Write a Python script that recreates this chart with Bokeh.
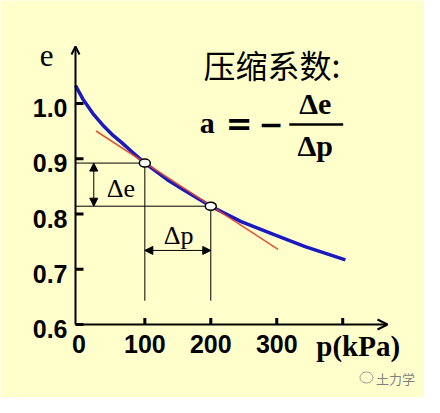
from bokeh.plotting import figure
from bokeh.models import (Range1d, Arrow, OpenHead, NormalHead, Label)
from bokeh.embed import file_html
from bokeh.resources import INLINE

# ---- data ----
pressure = [-5, 7, 21, 36, 50, 65, 80, 100, 134, 158, 183, 200, 246, 295, 343, 404]
void_ratio = [1.032, 1.006, 0.982, 0.961, 0.944, 0.929, 0.913, 0.892, 0.862,
              0.844, 0.826, 0.814, 0.786, 0.763, 0.741, 0.717]
point_p = [100, 200]
point_e = [0.892, 0.814]
secant_p = [26, 302]
secant_e = [0.950, 0.736]
y_ticks = [0.6, 0.7, 0.8, 0.9, 1.0]
y_tick_labels = ["0.6", "0.7", "0.8", "0.9", "1.0"]
x_label_ticks = [0, 100, 200, 300]
x_tick_labels = ["0", "100", "200", "300"]
x_mark_ticks = [100, 200, 300, 400]

# ---- layout constants ----
BG = "#FFFFCC"
W, H = 424, 397
AXIS_P, AXIS_P_END = -5.11, 467.9     # y axis position / x-axis arrow tip (kPa)
AXIS_E, AXIS_E_END = 0.6, 1.1029      # x axis position / y-axis arrow tip (e)
PX_X = 312 / (AXIS_P_END - AXIS_P)    # px per kPa
PX_Y = 278 / (AXIS_E_END - AXIS_E)    # px per unit e
X0, X1 = AXIS_P - 75 / PX_X, AXIS_P_END + 37 / PX_X
Y0, Y1 = AXIS_E - 73 / PX_Y, AXIS_E_END + 46 / PX_Y
DIM_BOTTOM = 0.643
DE_ARROW_P = 22.6
DP_ARROW_E = 0.734

p = figure(width=W, height=H, x_range=Range1d(X0, X1), y_range=Range1d(Y0, Y1),
           output_backend="svg", toolbar_location=None, title=None,
           x_axis_location=None, y_axis_location=None, min_border=0,
           background_fill_color=BG, border_fill_color=BG, outline_line_color=None)
p.grid.visible = False

# ---- axes (with arrow heads), ticks ----
p.add_layout(Arrow(end=OpenHead(size=8, line_width=2, line_color="black"),
                   x_start=AXIS_P, y_start=AXIS_E, x_end=AXIS_P, y_end=AXIS_E_END,
                   line_width=2, line_color="black"))
p.add_layout(Arrow(end=OpenHead(size=10, line_width=2, line_color="black"),
                   x_start=AXIS_P, y_start=AXIS_E, x_end=AXIS_P_END, y_end=AXIS_E,
                   line_width=2, line_color="black"))
p.segment(x0=[AXIS_P] * len(y_ticks), y0=y_ticks, x1=[AXIS_P + 8 / PX_X] * len(y_ticks),
          y1=y_ticks, line_width=3, line_color="black")
p.segment(x0=x_mark_ticks, y0=[AXIS_E] * len(x_mark_ticks), x1=x_mark_ticks,
          y1=[AXIS_E + 6.5 / PX_Y] * len(x_mark_ticks), line_width=3, line_color="black")

# ---- dimension lines ----
p.segment(x0=[AXIS_P, AXIS_P], y0=point_e, x1=point_p, y1=point_e, line_width=1, line_color="black")
p.segment(x0=point_p, y0=point_e, x1=point_p, y1=[DIM_BOTTOM] * 2, line_width=1, line_color="black")
p.add_layout(Arrow(start=NormalHead(size=8, fill_color="black", line_color="black"),
                   end=NormalHead(size=8, fill_color="black", line_color="black"),
                   x_start=DE_ARROW_P, y_start=point_e[0], x_end=DE_ARROW_P, y_end=point_e[1],
                   line_width=1, line_color="black"))
p.add_layout(Arrow(start=NormalHead(size=8, fill_color="black", line_color="black"),
                   end=NormalHead(size=8, fill_color="black", line_color="black"),
                   x_start=point_p[0], y_start=DP_ARROW_E, x_end=point_p[1], y_end=DP_ARROW_E,
                   line_width=1, line_color="black"))

# ---- curve and secant ----
p.line(pressure, void_ratio, line_width=3.5, line_color="#1A1AC0")
p.line(secant_p, secant_e, line_width=1.6, line_color="#E0442A", line_alpha=0.9)

# ---- points ----
p.ellipse(x=point_p, y=point_e, width=11, height=8, width_units="screen", height_units="screen",
          fill_color="white", line_color="black", line_width=1.5)

serif = "Liberation Serif"
sans = "Liberation Sans"
CJK = "Noto Sans CJK SC"
DJV = "DejaVu Sans"
# Label anchors its text box centre at y; K converts a baseline position to that centre
K = {serif: 0.34, sans: 0.3465, CJK: 0.436, DJV: 0.346}

def lab(x, y, text, size, font=serif, style="normal", align="left", color="black", at_baseline=True):
    if at_baseline:
        y = y + K[font] * size / PX_Y
    p.add_layout(Label(x=x, y=y, text=text, text_font=font, text_font_size=f"{size}px",
                       text_font_style=style, text_align=align, text_baseline="alphabetic",
                       text_color=color))

# tick labels
for t, s in zip(y_ticks, y_tick_labels):
    lab(AXIS_P - 8 / PX_X, t - 4.8 / PX_Y, s, 25, font=sans, style="bold", align="right",
        at_baseline=False)
for t, s in zip(x_label_ticks, x_tick_labels):
    lab(t, AXIS_E - 19.2 / PX_Y, s, 25, font=sans, style="bold", align="center", at_baseline=False)

# axis titles
lab(-48.9, 1.067, "e", 31, align="center")
lab(359.9, 0.5426, "p(kPa)", 29, style="bold")

# formula
lab(189.1, 1.0452, "压缩系数:", 32, font=CJK)
lab(183.2, 0.9478, "a", 30, style="bold")
lab(243.1, 0.9636, "=", 32, font=DJV, style="bold", align="center", at_baseline=False)
lab(291.2, 0.9636, "\u2212", 30, font=DJV, style="bold", align="center", at_baseline=False)
lab(358.4, 0.9809, "\u0394e", 30, style="bold", align="center")
lab(358.4, 0.9052, "\u0394p", 30, style="bold", align="center")
p.segment(x0=[319], y0=[0.9617], x1=[400.7], y1=[0.9617], line_width=2.5, line_color="black")

# dimension texts
lab(63.6, 0.8296, "\u0394e", 26, align="center")
lab(151.1, 0.7456, "\u0394p", 26, align="center")

# watermark
p.ellipse(x=[436], y=[0.5041], width=13, height=11, width_units="screen", height_units="screen",
          fill_color=None, line_color="#9a9a9a", line_width=1)
lab(480.0, 0.5023, "土力学", 13, font=CJK, align="center", color="#808080", at_baseline=False)

open("out.html", "w").write(file_html(p, INLINE))
